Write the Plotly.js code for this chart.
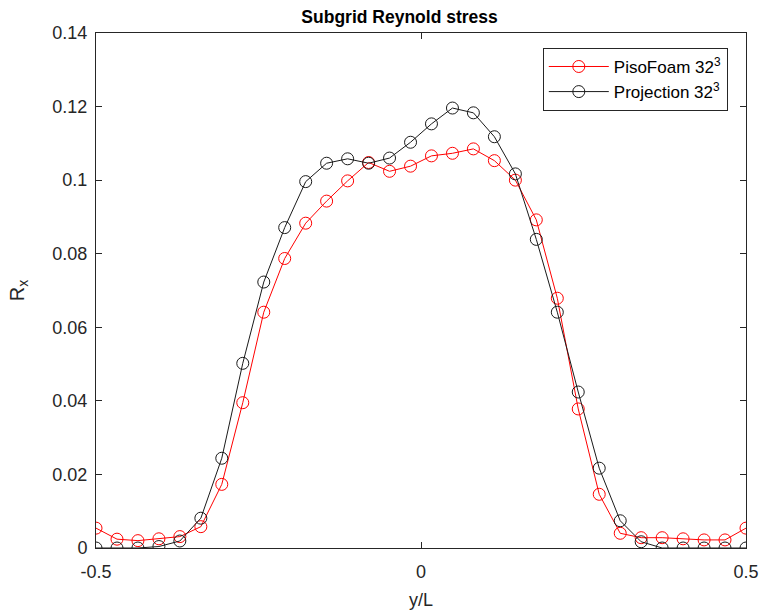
<!DOCTYPE html>
<html>
<head>
<meta charset="utf-8">
<script src="https://cdn.plot.ly/plotly-3.0.1.min.js"></script>
<style>html,body{margin:0;padding:0;background:#fff;}#chart{width:765px;height:616px;}</style>
</head>
<body>
<div id="chart"></div>
<script>
const yL = [-0.5, -0.4677, -0.4355, -0.4032, -0.371, -0.3387, -0.3065, -0.2742, -0.2419, -0.2097, -0.1774, -0.1452, -0.1129, -0.0806, -0.0484, -0.0161,
            0.0161, 0.0484, 0.0806, 0.1129, 0.1452, 0.1774, 0.2097, 0.2419, 0.2742, 0.3065, 0.3387, 0.371, 0.4032, 0.4355, 0.4677, 0.5];
const pisoFoam = [0.0054, 0.0024, 0.0020, 0.0025, 0.0031, 0.0058, 0.0173, 0.0395, 0.0641, 0.0787, 0.0883, 0.0943, 0.0998, 0.1048, 0.1024, 0.1038,
                  0.1066, 0.1073, 0.1085, 0.1053, 0.1000, 0.0892, 0.0679, 0.0378, 0.0146, 0.0040, 0.0028, 0.0028, 0.0025, 0.0022, 0.0022, 0.0054];
const projection = [0, 0, 0, 0.0004, 0.0019, 0.0081, 0.0244, 0.0502, 0.0723, 0.0871, 0.0996, 0.1046, 0.1058, 0.1046, 0.1060, 0.1103,
                    0.1153, 0.1196, 0.1183, 0.1118, 0.1017, 0.0839, 0.0641, 0.0424, 0.0217, 0.0074, 0.0017, 0, 0, 0, 0, 0];
const seriesNames = ['PisoFoam 32<sup>3</sup>', 'Projection 32<sup>3</sup>'];
const xTicks = [-0.5, 0, 0.5];
const xTickText = ['-0.5', '0', '0.5'];
const yTicks = [0, 0.02, 0.04, 0.06, 0.08, 0.1, 0.12, 0.14];
const yTickText = ['0', '0.02', '0.04', '0.06', '0.08', '0.1', '0.12', '0.14'];

const axisColor = '#262626';
const traces = [
  {x: yL, y: pisoFoam, name: seriesNames[0], type: 'scatter', mode: 'lines+markers',
   line: {color: '#ff0000', width: 1},
   marker: {symbol: 'circle-open', size: 12, color: '#ff0000', line: {width: 1, color: '#ff0000'}}},
  {x: yL, y: projection, name: seriesNames[1], type: 'scatter', mode: 'lines+markers',
   line: {color: '#1a1a1a', width: 1},
   marker: {symbol: 'circle-open', size: 12, color: '#1a1a1a', line: {width: 1, color: '#1a1a1a'}}}
];
const layout = {
  width: 765, height: 616,
  margin: {l: 96, r: 19, t: 33, b: 68},
  paper_bgcolor: '#ffffff', plot_bgcolor: '#ffffff',
  font: {family: 'Liberation Sans, Arial, sans-serif', size: 18, color: axisColor},
  title: {text: '<b>Subgrid Reynold stress</b>', font: {size: 17.5, color: '#000'}, x: 0.467, xref: 'paper', xanchor: 'center', y: 0.972, yref: 'container', yanchor: 'middle'},
  xaxis: {range: [-0.5, 0.5], tickvals: xTicks, ticktext: xTickText, ticks: 'inside', ticklen: 6, tickcolor: axisColor,
          showline: true, linecolor: axisColor, linewidth: 1, mirror: 'ticks', showgrid: false, zeroline: false,
          tickfont: {size: 18, color: axisColor}, ticklabelstandoff: 7,
          title: {text: 'y/L', font: {size: 18, color: axisColor}, standoff: 12}},
  yaxis: {range: [0, 0.14], tickvals: yTicks, ticktext: yTickText, ticks: 'inside', ticklen: 6, tickcolor: axisColor,
          showline: true, linecolor: axisColor, linewidth: 1, mirror: 'ticks', showgrid: false, zeroline: false,
          tickfont: {size: 18, color: axisColor}, ticklabelstandoff: 4,
          title: {text: 'R<sub>x</sub>', font: {size: 20, color: axisColor}, standoff: 22}},
  legend: {x: 0.972, y: 0.971, xanchor: 'right', yanchor: 'top', bgcolor: '#ffffff', bordercolor: axisColor, borderwidth: 1,
           font: {size: 17, color: '#000'}, tracegroupgap: 0, itemwidth: 60},
  showlegend: true
};
Plotly.newPlot('chart', traces, layout, {staticPlot: true, displayModeBar: false});
</script>
</body>
</html>
